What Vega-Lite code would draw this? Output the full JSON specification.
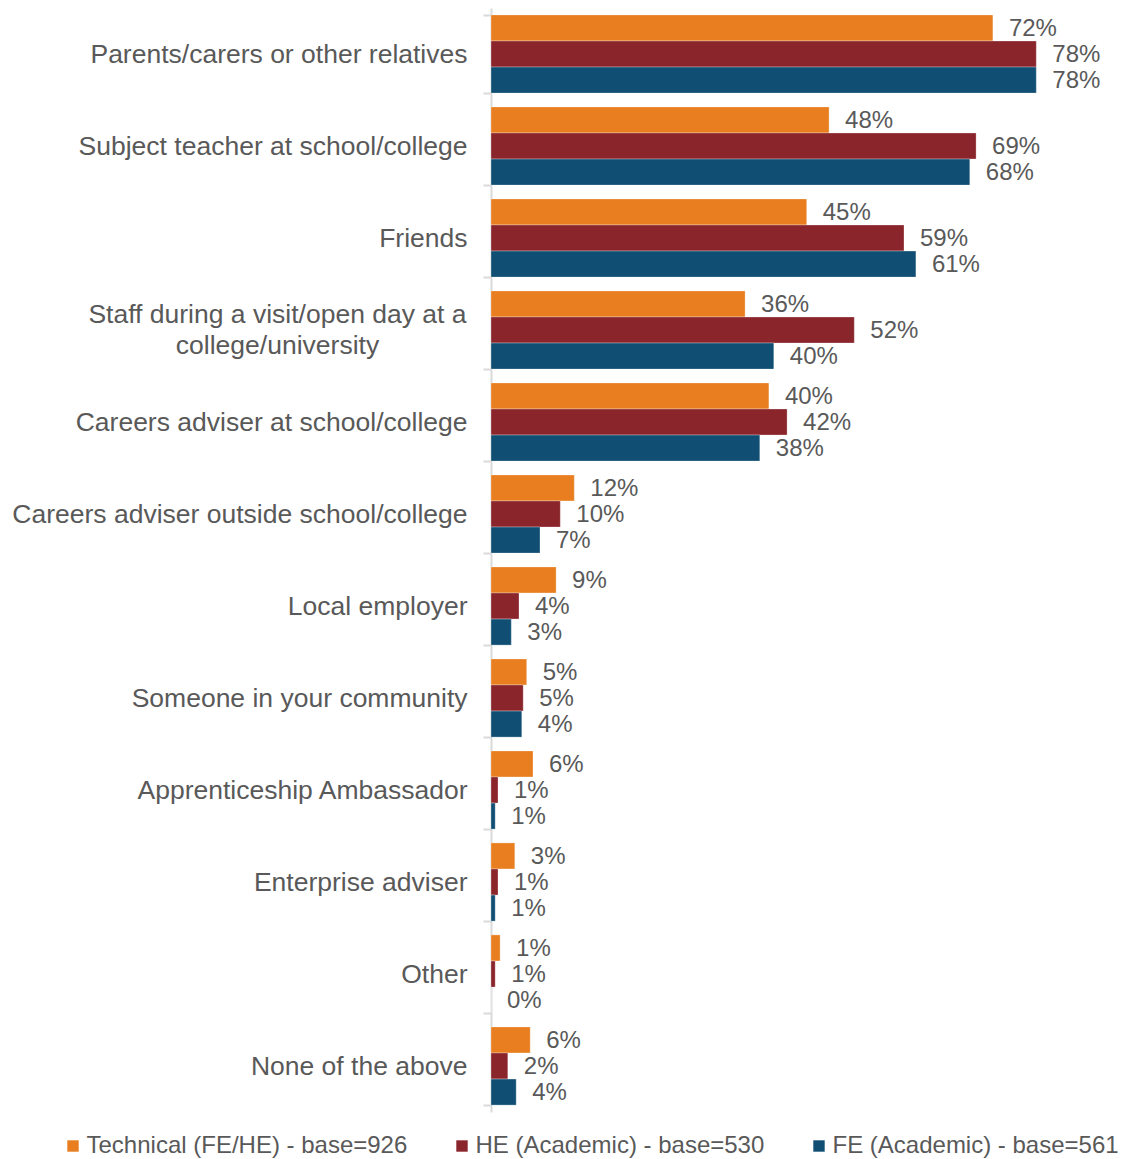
{
  "$schema": "https://vega.github.io/schema/vega-lite/v6.json",
  "autosize": "none",
  "width": 630,
  "height": 1104,
  "padding": {"left": 491, "top": 8, "right": 0, "bottom": 47},
  "background": "white",
  "config": {
    "view": {"stroke": null},
    "font": "Liberation Sans",
    "text": {"font": "Liberation Sans"}
  },
  "data": {
    "values": [
      {"category": "Parents/carers or other relatives", "series": "Technical (FE/HE) - base=926", "value": 0.717},
      {"category": "Parents/carers or other relatives", "series": "HE (Academic) - base=530", "value": 0.779},
      {"category": "Parents/carers or other relatives", "series": "FE (Academic) - base=561", "value": 0.779},
      {"category": "Subject teacher at school/college", "series": "Technical (FE/HE) - base=926", "value": 0.483},
      {"category": "Subject teacher at school/college", "series": "HE (Academic) - base=530", "value": 0.693},
      {"category": "Subject teacher at school/college", "series": "FE (Academic) - base=561", "value": 0.684},
      {"category": "Friends", "series": "Technical (FE/HE) - base=926", "value": 0.451},
      {"category": "Friends", "series": "HE (Academic) - base=530", "value": 0.59},
      {"category": "Friends", "series": "FE (Academic) - base=561", "value": 0.607},
      {"category": "Staff during a visit/open day at a college/university", "series": "Technical (FE/HE) - base=926", "value": 0.363},
      {"category": "Staff during a visit/open day at a college/university", "series": "HE (Academic) - base=530", "value": 0.519},
      {"category": "Staff during a visit/open day at a college/university", "series": "FE (Academic) - base=561", "value": 0.404},
      {"category": "Careers adviser at school/college", "series": "Technical (FE/HE) - base=926", "value": 0.397},
      {"category": "Careers adviser at school/college", "series": "HE (Academic) - base=530", "value": 0.423},
      {"category": "Careers adviser at school/college", "series": "FE (Academic) - base=561", "value": 0.384},
      {"category": "Careers adviser outside school/college", "series": "Technical (FE/HE) - base=926", "value": 0.119},
      {"category": "Careers adviser outside school/college", "series": "HE (Academic) - base=530", "value": 0.099},
      {"category": "Careers adviser outside school/college", "series": "FE (Academic) - base=561", "value": 0.07},
      {"category": "Local employer", "series": "Technical (FE/HE) - base=926", "value": 0.093},
      {"category": "Local employer", "series": "HE (Academic) - base=530", "value": 0.04},
      {"category": "Local employer", "series": "FE (Academic) - base=561", "value": 0.029},
      {"category": "Someone in your community", "series": "Technical (FE/HE) - base=926", "value": 0.051},
      {"category": "Someone in your community", "series": "HE (Academic) - base=530", "value": 0.046},
      {"category": "Someone in your community", "series": "FE (Academic) - base=561", "value": 0.044},
      {"category": "Apprenticeship Ambassador", "series": "Technical (FE/HE) - base=926", "value": 0.06},
      {"category": "Apprenticeship Ambassador", "series": "HE (Academic) - base=530", "value": 0.01},
      {"category": "Apprenticeship Ambassador", "series": "FE (Academic) - base=561", "value": 0.006},
      {"category": "Enterprise adviser", "series": "Technical (FE/HE) - base=926", "value": 0.034},
      {"category": "Enterprise adviser", "series": "HE (Academic) - base=530", "value": 0.01},
      {"category": "Enterprise adviser", "series": "FE (Academic) - base=561", "value": 0.006},
      {"category": "Other", "series": "Technical (FE/HE) - base=926", "value": 0.013},
      {"category": "Other", "series": "HE (Academic) - base=530", "value": 0.006},
      {"category": "Other", "series": "FE (Academic) - base=561", "value": 0.0},
      {"category": "None of the above", "series": "Technical (FE/HE) - base=926", "value": 0.056},
      {"category": "None of the above", "series": "HE (Academic) - base=530", "value": 0.024},
      {"category": "None of the above", "series": "FE (Academic) - base=561", "value": 0.036}
    ]
  },
  "encoding": {
    "y": {
      "field": "category",
      "type": "nominal",
      "sort": null,
      "scale": {"paddingInner": 0.15, "paddingOuter": 0.075},
      "axis": {
        "title": null,
        "domain": true,
        "domainColor": "#d9d9d9",
        "domainWidth": 2,
        "ticks": true,
        "tickColor": "#d9d9d9",
        "tickWidth": 2,
        "tickSize": 8,
        "tickBand": "extent",
        "labelFont": "Liberation Sans",
        "labelFontSize": 26.5,
        "labelColor": "#595959",
        "labelLimit": 600,
        "labelLineHeight": 31,
        "labelPadding": {"condition": {"test": "datum.value == 'Staff during a visit/open day at a college/university'", "value": 206}, "value": 16},
        "labelAlign": {"condition": {"test": "datum.value == 'Staff during a visit/open day at a college/university'", "value": "center"}, "value": "right"},
        "labelOffset": {"condition": {"test": "datum.value == 'Staff during a visit/open day at a college/university'", "value": -15.5}, "value": 0},
        "labelExpr": "datum.value == 'Staff during a visit/open day at a college/university' ? ['Staff during a visit/open day at a', 'college/university'] : datum.value"
      }
    },
    "yOffset": {
      "field": "series",
      "type": "nominal",
      "sort": ["Technical (FE/HE) - base=926", "HE (Academic) - base=530", "FE (Academic) - base=561"],
      "scale": {"paddingInner": 0, "paddingOuter": 0}
    },
    "x": {
      "field": "value",
      "type": "quantitative",
      "scale": {"domain": [0, 0.9], "nice": false},
      "axis": null
    }
  },
  "layer": [
    {
      "mark": {"type": "bar", "stroke": "white", "strokeWidth": 0.5, "strokeOpacity": 0.6},
      "encoding": {
        "color": {
          "field": "series",
          "type": "nominal",
          "sort": ["Technical (FE/HE) - base=926", "HE (Academic) - base=530", "FE (Academic) - base=561"],
          "scale": {
            "domain": ["Technical (FE/HE) - base=926", "HE (Academic) - base=530", "FE (Academic) - base=561"],
            "range": ["#E87E1F", "#8A252C", "#104F73"]
          },
          "legend": {
            "title": null,
            "orient": "none",
            "direction": "horizontal",
            "legendX": -430,
            "legendY": 1126,
            "symbolType": "square",
            "symbolSize": 130,
            "symbolStrokeWidth": 0,
            "labelFont": "Liberation Sans",
            "labelFontSize": 24,
            "labelColor": "#595959",
            "labelOffset": 1.5,
            "labelLimit": 0,
            "columnPadding": 42,
            "symbolOffset": 0
          }
        }
      }
    },
    {
      "mark": {"type": "text", "align": "left", "baseline": "middle", "dx": 16, "dy": 1, "fontSize": 24, "color": "#595959", "font": "Liberation Sans"},
      "encoding": {
        "text": {"field": "value", "type": "quantitative", "format": ".0%"}
      }
    }
  ]
}
